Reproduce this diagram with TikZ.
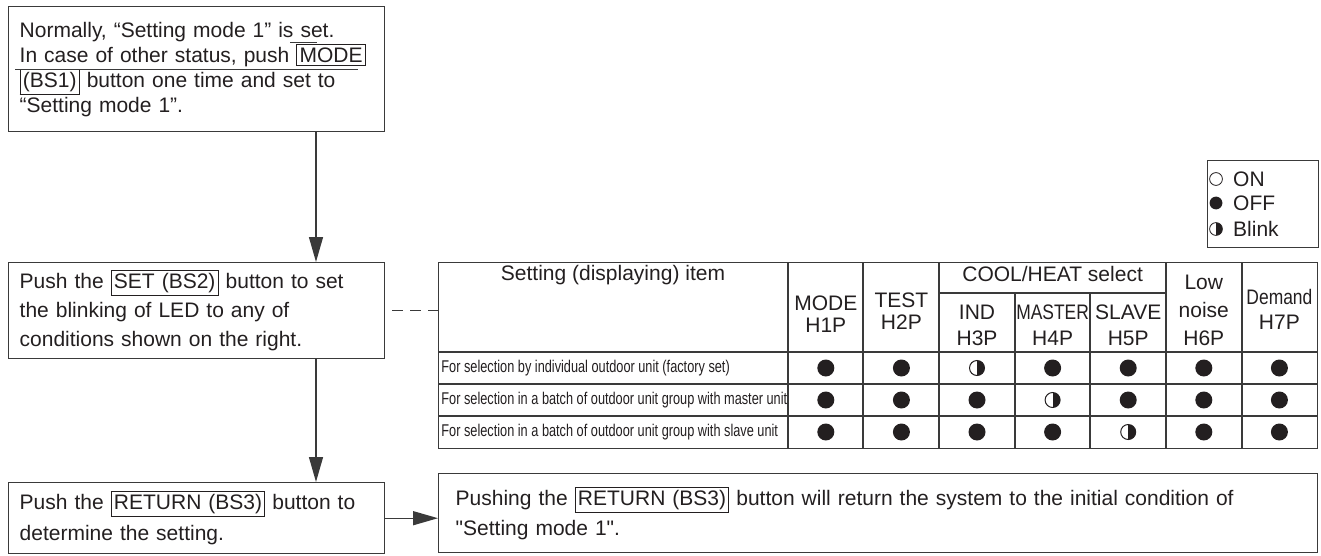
\documentclass[tikz,border=0pt]{standalone}
\usepackage{fontspec}
\setmainfont{Liberation Sans}
\usepackage{graphicx}
\usetikzlibrary{positioning, arrows.meta}
\definecolor{inkblack}{HTML}{231F20}
\definecolor{framegray}{HTML}{3A3A3A}
\setlength{\fboxsep}{1.1pt}
\setlength{\fboxrule}{0.5pt}
\setlength{\lineskiplimit}{-10pt}
\font\plainquote="Liberation Sans" at 10.5pt
\newcommand{\condensed}[1]{\scalebox{0.75}[1]{#1}}
\newcommand{\narrowlbl}[1]{\scalebox{0.83}[1]{#1}}

\begin{document}
\begin{tikzpicture}[
    x=0.5pt, y=-0.5pt,
    stepbox/.style={draw=framegray, line width=0.7pt, rectangle, anchor=north west, align=left, inner xsep=5.5pt, inner ysep=0pt, text=inkblack},
    tablebox/.style={draw=framegray, line width=0.7pt, rectangle, anchor=north west, inner sep=0pt},
    gridline/.style={draw=framegray, line width=0.6pt},
    headtxt/.style={text=inkblack, align=center, inner sep=0pt, font=\fontsize{10.5}{11}\selectfont},
    rowlbl/.style={text=inkblack, anchor=west, inner sep=0pt, font=\fontsize{8.5}{10}\selectfont},
    flowarrow/.style={-{Triangle[length=12.5pt, width=7pt]}, draw=framegray, line width=0.7pt},
    ledoff/.style={circle, fill=inkblack, minimum size=8.5pt, inner sep=0pt},
    halfpic/.style={path picture={\fill[inkblack] (path picture bounding box.north) rectangle (path picture bounding box.south east);}},
    ledblink/.style={circle, draw=inkblack, line width=0.5pt, fill=white, minimum size=7.5pt, inner sep=0pt, halfpic},
    lgdot/.style={circle, inner sep=0pt, minimum size=6.4pt, line width=0.4pt},
    lgtxt/.style={text=inkblack, anchor=west, inner sep=0pt, font=\fontsize{10.5}{12}\selectfont},
]
\useasboundingbox (0,0) rectangle (1321,556);

% flow boxes on the left
\node[stepbox, minimum width=188pt, minimum height=62.5pt, text width=177pt, font=\fontsize{10.5}{12.5}\selectfont] (modeset) at (8,6)
   {Normally, “Setting mode 1” is set.\\In case of other status, push \fbox{MODE}\\\fbox{(BS1)} button one time and set to\\“Setting mode 1”.};
\node[stepbox, minimum width=188pt, minimum height=48pt, text width=177pt, font=\fontsize{10.5}{14.5}\selectfont] (setled) at (8,262)
   {Push the \fbox{SET (BS2)}\ button to set\\the blinking of LED to any of\\conditions shown on the right.};
\node[stepbox, minimum width=188pt, minimum height=35.5pt, text width=177pt, font=\fontsize{10.5}{15.5}\selectfont] (retset) at (8,482)
   {Push the \fbox{RETURN (BS3)}\ button to\\determine the setting.};
\node[stepbox, minimum width=439.5pt, minimum height=39.5pt, inner xsep=8.5pt, text width=422.5pt, font=\fontsize{10.5}{15}\selectfont] (retnote) at (438,473)
   {Pushing the \fbox{RETURN (BS3)}\ button will return the system to the initial condition of\\{\plainquote "}Setting mode 1{\plainquote "}.};

% stray frame lines in the first box
\draw[gridline, line width=0.5pt] (15,70) -- (358,70);
\draw[gridline, line width=0.5pt] (290,43) -- (317,43);

% flow arrows
\coordinate (flowx) at (316,0);
\draw[flowarrow] (modeset.south -| flowx) -- (setled.north -| flowx);
\draw[flowarrow] (setled.south -| flowx) -- (retset.north -| flowx);
\draw[flowarrow] (retset.east) -- (retset.east -| retnote.west);

% LED table
\node[tablebox, minimum width=439.5pt, minimum height=93pt] (ledtable) at (438,262) {};
\draw[gridline, dash pattern=on 5.5pt off 3.5pt] ([xshift=3.5pt]setled.east) -- (setled.east -| ledtable.west);
\foreach \y in {352,384,416} \draw[gridline] (438,\y) -- (1317,\y);
\draw[gridline] (939,293) -- (1166,293);
\foreach \x in {788,863,939,1166,1242} \draw[gridline] (\x,262) -- (\x,448);
\foreach \x in {1015,1090} \draw[gridline] (\x,293) -- (\x,448);

\node[headtxt] (hitem) at (613,275) {Setting (displaying) item};
\node[headtxt] (hmode) at (825.8,314) {MODE\\H1P};
\node[headtxt] (htest) at (901.4,311) {TEST\\H2P};
\node[headtxt] (hcool) at (1052.6,274) {COOL/HEAT select};
\node[headtxt, font=\fontsize{10.5}{13}\selectfont] (hind) at (977,325) {IND\\H3P};
\node[headtxt, font=\fontsize{10.5}{13}\selectfont] (hmaster) at (1052.6,325) {\narrowlbl{MASTER}\\H4P};
\node[headtxt, font=\fontsize{10.5}{13}\selectfont] (hslave) at (1128.2,325) {SLAVE\\H5P};
\node[headtxt, font=\fontsize{10.5}{14}\selectfont] (hlow) at (1203.8,310) {Low\\noise\\H6P};
\node[headtxt, font=\fontsize{10.5}{12.5}\selectfont] (hdemand) at (1279.4,309.5) {\narrowlbl{Demand}\\H7P};

\node[rowlbl] (rind) at (441,368) {\condensed{For selection by individual outdoor unit (factory set)}};
\node[rowlbl] (rmaster) at (441,400) {\condensed{For selection in a batch of outdoor unit group with master unit}};
\node[rowlbl] (rslave) at (441,432) {\condensed{For selection in a batch of outdoor unit group with slave unit}};

\foreach \y/\states [count=\r] in {368/{off,off,blink,off,off,off,off}, 400/{off,off,off,blink,off,off,off}, 432/{off,off,off,off,blink,off,off}}
  \foreach \s [count=\c] in \states
    \node[led\s] (led-\r-\c) at ({750.2+75.6*\c},\y) {};

% legend
\node[tablebox, minimum width=55.5pt, minimum height=43.5pt, line width=0.6pt] (legend) at (1207,160) {};
\node[lgdot, draw=inkblack, fill=white] (lgon) at (1216,179) {};
\node[lgdot, fill=inkblack] (lgoff) at (1216,203) {};
\node[lgdot, draw=inkblack, fill=white, halfpic] (lgblink) at (1216,229) {};
\node[lgtxt, right=5pt of lgon] (lgontxt) {ON};
\node[lgtxt, right=5pt of lgoff] (lgofftxt) {OFF};
\node[lgtxt, right=5pt of lgblink] (lgblinktxt) {Blink};
\end{tikzpicture}
\end{document}
